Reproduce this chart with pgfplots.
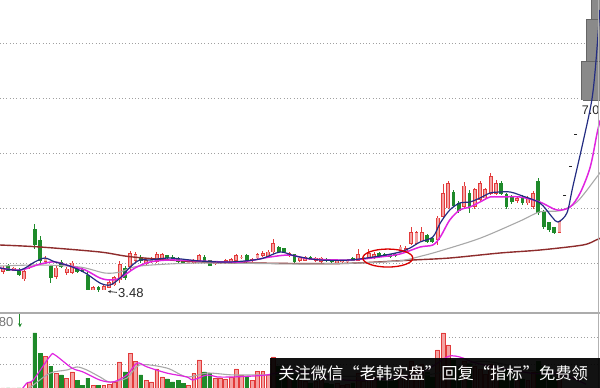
\documentclass[border=0pt]{standalone}
\usepackage{pgfplots}
\pgfplotsset{compat=1.18}
\usepackage{pgfplotstable}
\usepackage{fontspec}
\setmainfont{Liberation Sans}
\newfontfamily\cjk{Noto Sans CJK SC}
\usetikzlibrary{arrows.meta}

\definecolor{cred}{HTML}{E23B3B}
\definecolor{cpink}{HTML}{F4A2A2}
\definecolor{cgreen}{HTML}{1E8A2A}
\definecolor{ma5}{HTML}{232C82}
\definecolor{ma10}{HTML}{E024E0}
\definecolor{ma60}{HTML}{A8A8A8}
\definecolor{ma250}{HTML}{8E2C2C}
\definecolor{gridc}{HTML}{A0A0A0}
\definecolor{boxg}{HTML}{8A8A8A}

\pgfplotstableread{
i o h l c
0 3.84 3.95 3.80 3.91
2 3.87 3.93 3.86 3.91
4 3.71 3.91 3.67 3.84
5 3.91 3.98 3.89 3.95
8 4.02 4.13 3.98 4.09
10 3.75 3.95 3.71 3.91
12 3.82 3.93 3.78 3.89
13 3.82 4.04 3.80 4.00
17 3.51 3.58 3.50 3.56
19 3.51 3.60 3.50 3.58
20 3.56 3.69 3.55 3.65
21 3.60 3.76 3.58 3.73
22 3.69 4.04 3.64 3.98
24 3.93 4.22 3.87 4.18
25 4.05 4.20 4.02 4.16
27 3.98 4.07 3.96 4.04
28 4.02 4.11 4.00 4.09
29 4.02 4.20 4.00 4.15
30 4.05 4.18 4.04 4.15
35 4.00 4.05 3.98 4.04
36 4.00 4.07 3.98 4.05
37 4.04 4.16 4.02 4.13
40 3.98 4.04 3.96 4.02
41 4.00 4.04 3.98 4.02
42 4.00 4.07 3.98 4.04
43 4.02 4.09 4.00 4.07
44 4.04 4.16 4.02 4.13
45 4.09 4.15 4.07 4.11
47 4.04 4.09 4.02 4.07
48 4.09 4.18 4.07 4.15
49 4.13 4.22 4.11 4.18
50 4.11 4.24 4.09 4.20
51 4.20 4.44 4.16 4.36
54 4.13 4.20 4.11 4.18
56 4.04 4.11 4.02 4.09
57 4.05 4.13 4.04 4.11
59 4.04 4.11 4.02 4.09
60 4.02 4.11 4.00 4.09
63 4.00 4.05 3.98 4.04
64 4.02 4.05 4.00 4.04
65 4.02 4.07 4.00 4.05
67 4.05 4.26 4.04 4.16
68 4.09 4.13 4.07 4.11
69 4.09 4.26 4.07 4.18
70 4.09 4.20 4.07 4.16
75 4.18 4.33 4.16 4.29
76 4.22 4.31 4.20 4.27
77 4.36 4.65 4.33 4.56
78 4.36 4.58 4.35 4.55
79 4.40 4.65 4.38 4.56
82 4.42 4.86 4.33 4.82
83 4.84 5.44 4.80 5.27
84 5.00 5.49 4.98 5.44
87 5.02 5.47 4.98 5.40
89 5.02 5.36 4.98 5.33
90 5.15 5.49 5.11 5.45
91 5.18 5.36 5.15 5.33
92 5.27 5.64 5.24 5.58
93 5.27 5.51 5.24 5.45
97 5.13 5.22 5.09 5.18
99 5.09 5.22 5.05 5.18
100 5.02 5.31 4.98 5.27
105 4.56 4.76 4.55 4.75
}\candleup

\pgfplotstableread{
i o h l c
1 3.95 3.98 3.86 3.87
3 3.87 3.91 3.76 3.78
6 4.62 4.71 4.25 4.33
7 4.42 4.49 3.96 4.05
9 3.93 3.96 3.64 3.73
11 4.02 4.05 3.91 3.93
14 3.91 3.95 3.82 3.84
15 3.89 3.91 3.84 3.85
16 3.78 3.84 3.50 3.51
18 3.56 3.58 3.48 3.51
23 3.91 3.95 3.69 3.73
26 4.11 4.15 4.00 4.04
31 4.13 4.15 4.07 4.09
32 4.11 4.15 4.04 4.05
33 4.07 4.11 4.00 4.02
34 4.04 4.05 3.98 4.00
38 4.11 4.15 4.02 4.04
39 4.04 4.05 3.95 3.96
46 4.13 4.16 4.00 4.04
52 4.29 4.31 4.18 4.20
53 4.26 4.27 4.18 4.20
55 4.15 4.16 4.00 4.02
58 4.11 4.13 4.05 4.07
61 4.07 4.09 4.02 4.04
62 4.05 4.07 4.00 4.02
66 4.09 4.11 4.04 4.05
71 4.18 4.20 4.11 4.13
72 4.16 4.18 4.11 4.13
73 4.15 4.16 4.09 4.11
74 4.16 4.18 4.11 4.13
80 4.51 4.53 4.36 4.38
81 4.45 4.47 4.36 4.38
85 5.29 5.33 5.02 5.05
86 5.09 5.13 4.91 4.95
88 5.27 5.33 4.91 5.02
94 5.45 5.49 5.24 5.27
95 5.24 5.27 4.98 5.02
96 5.20 5.24 5.07 5.11
98 5.20 5.24 5.05 5.09
101 5.49 5.55 4.87 4.91
102 4.93 4.96 4.62 4.66
103 4.73 4.75 4.56 4.60
104 4.64 4.65 4.53 4.56
}\candledown

\pgfplotstableread{
i v
0 18
2 15
4 21
5 26.7
8 45.9
10 33.3
12 29.6
13 34.1
17 24.4
19 24.4
20 25.0
21 26.7
22 41.5
24 48.1
25 42.2
27 28.1
28 26.7
29 36.3
30 30.4
35 24.4
36 33.3
37 43.0
40 29.6
41 29.6
42 28.9
43 30.4
44 36.3
45 31.9
47 28.1
48 34.8
49 34.8
50 31.9
51 45.2
54 30
56 28
57 27
59 27
60 28
63 26
64 24
65 25
67 33
68 27
69 31
70 30
75 35
76 32
77 42
78 38
79 40
82 50.4
83 63.0
84 54.1
87 42
89 38
90 36
91 32
92 40
93 35
97 28
99 28
100 34
105 35
106 14
107 12
108 12
109 12
110 12
111 12
}\volup

\pgfplotstableread{
i v
1 17
3 19
6 63.0
7 48.1
9 38.5
11 31.9
14 28.1
15 24.4
16 29.6
18 24.4
23 34.1
26 31.9
31 28.9
32 26.7
33 28.1
34 25.9
38 34.1
39 33.3
46 30.4
52 38
53 33
55 32
58 26
61 26
62 25
66 26
71 28
72 27
73 27
74 28
80 34
81 30
85 43
86 38
88 40
94 33
95 36
96 30
98 29
101 42
102 38
103 33
104 30
}\voldown

\pgfplotsset{
  wick/.style={draw=none, mark=none, forget plot,
    error bars/.cd, y dir=both, y explicit, error mark=none,
    error bar style={draw=#1, line width=0.8pt}},
  body/.style 2 args={draw=none, mark=none, forget plot,
    error bars/.cd, y dir=both, y explicit, error mark=none,
    error bar style={draw=#1, line width=#2}},
}

\begin{document}
\begin{tikzpicture}
% ---------------- price panel ----------------
\begin{axis}[at={(0pt,76pt)}, anchor=south west, scale only axis,
  width=600pt, height=312pt,
  xmin=-0.56604, xmax=112.6415, ymin=3.10909, ymax=8.78182,
  axis line style={draw=none}, xtick=\empty, ytick=\empty, clip=true]
\foreach \g in {4,5,6,7,8}{
  \edef\tmp{\noexpand\draw[gridc, line width=0.9pt, dash pattern=on 1pt off 2.3pt] (axis cs:-0.6,\g) -- (axis cs:112.3,\g);}\tmp
}
% gap boxes on the limit-up run
\addplot[fill=boxg, draw=black!60, line width=0.6pt] coordinates {(109.05,6.96) (113,6.96) (113,7.66) (109.05,7.66)} -- cycle;
\addplot[fill=boxg, draw=black!60, line width=0.6pt] coordinates {(110.1,7.66) (113,7.66) (113,8.43) (110.1,8.43)} -- cycle;
\addplot[fill=boxg, draw=black!60, line width=0.6pt] coordinates {(111.05,8.43) (113,8.43) (113,9.2) (111.05,9.2)} -- cycle;
% candles: wicks
\addplot[wick=cred] table[x=i, y expr={(\thisrow{h}+\thisrow{l})/2}, y error expr={(\thisrow{h}-\thisrow{l})/2}] {\candleup};
\addplot[wick=cgreen] table[x=i, y expr={(\thisrow{h}+\thisrow{l})/2}, y error expr={(\thisrow{h}-\thisrow{l})/2}] {\candledown};
% candles: bodies
\addplot[body={cred}{3.8pt}] table[x=i, y expr={(\thisrow{o}+\thisrow{c})/2}, y error expr={abs(\thisrow{c}-\thisrow{o})/2+0.007}] {\candleup};
\addplot[body={cpink}{2.2pt}] table[x=i, y expr={(\thisrow{o}+\thisrow{c})/2}, y error expr={max(abs(\thisrow{c}-\thisrow{o})/2-0.008,0)}] {\candleup};
\addplot[body={cgreen}{3.8pt}] table[x=i, y expr={(\thisrow{o}+\thisrow{c})/2}, y error expr={abs(\thisrow{c}-\thisrow{o})/2+0.007}] {\candledown};
% one-price limit-up days
\addplot[only marks, mark=-, mark size=1.6pt, mark options={line width=1.2pt, draw=black!85}] coordinates {(106,5.23) (107,5.75) (108,6.33)};
\addplot[only marks, mark=-, mark size=1.8pt, mark options={line width=1.2pt, draw=white}] coordinates {(109,6.96)};
% moving averages
\addplot[ma250, line width=1.4pt, smooth, tension=0.5] coordinates {(-0.57,4.327)(7,4.291)(18.3,4.20)(24.5,4.109)(37.2,4.018)(46.6,4.0)(63.6,3.99)(77.4,4.055)(84.3,4.091)(93.8,4.182)(101.3,4.236)(109.4,4.327)(111.9,4.418)(112.7,4.45)};
\addplot[ma60, line width=1.1pt, smooth, tension=0.5] coordinates {(-0.57,3.945)(7,3.964)(14.5,3.927)(19.2,3.818)(22.1,3.836)(25.8,3.945)(37.2,4.0)(56,3.982)(67.4,4.0)(74.9,4.04)(78.7,4.12)(82.5,4.22)(90,4.45)(97.5,4.76)(101.3,4.93)(105.1,4.95)(108.3,5.11)(111.9,5.545)(112.7,5.65)};
\addplot[ma10, line width=1.5pt, smooth, tension=0.5] coordinates {(-0.57,3.91)(3.2,3.87)(7,3.98)(9.8,4.02)(12.6,3.945)(15.5,3.873)(18.3,3.727)(20.2,3.691)(22.1,3.727)(24.9,3.909)(27.7,4.018)(31.5,4.055)(37.2,4.036)(44.7,4.018)(50.4,4.109)(54.2,4.145)(57.9,4.073)(65.5,4.055)(71.1,4.109)(74.9,4.164)(78.7,4.291)(81.1,4.327)(82.5,4.473)(84.3,4.782)(86.2,4.964)(88.1,5.018)(90,5.109)(91.9,5.20)(93.8,5.20)(97.5,5.20)(101.3,5.109)(104.5,4.964)(107,5.018)(108.9,5.273)(110.8,5.745)(112.1,6.364)(112.7,6.6)};
\addplot[ma5, line width=1.2pt, smooth, tension=0.5] coordinates {(-0.57,3.91)(3.2,3.87)(6,4.02)(7.9,4.09)(9.8,4.02)(12.6,3.945)(15.5,3.82)(18.3,3.636)(20.2,3.60)(22.1,3.727)(24,3.927)(25.8,4.055)(27.7,4.055)(31.5,4.09)(37.2,4.036)(42.8,4.018)(48.5,4.073)(52.3,4.20)(55.1,4.127)(59.8,4.055)(65.5,4.055)(71.1,4.127)(74.9,4.20)(76.8,4.273)(78.7,4.382)(81.1,4.473)(82.5,4.727)(84.3,4.964)(86.2,5.091)(88.1,5.109)(90,5.182)(91.9,5.273)(93.8,5.291)(95.7,5.291)(97.5,5.236)(101.3,5.091)(103.6,4.836)(104.7,4.745)(106.4,4.909)(107.5,5.382)(109.4,6.182)(111.1,6.964)(111.9,7.69)(112.6,8.6)};
% annotations
\draw[red!85!black, line width=1.3pt] (axis cs:72.6,4.09) ellipse [x radius=25pt, y radius=9pt];
\draw[black!80, line width=0.8pt, -{Stealth[length=3pt,width=3pt]}] (axis cs:21.5,3.465) -- (axis cs:19.8,3.485);
\node[anchor=west, inner sep=0pt, font=\fontsize{13}{13}\selectfont, text=black!85] at (axis cs:21.7,3.455) {3.48};
\node[anchor=west, inner sep=0pt, font=\fontsize{12.5}{12.5}\selectfont, text=black!85] at (axis cs:109.2,6.78) {7.0};
\draw[gray!60, line width=0.8pt] (axis cs:112.26,3.0) -- (axis cs:112.26,9.0);
\end{axis}
% ---------------- volume panel ----------------
\begin{axis}[at={(0pt,0pt)}, anchor=south west, scale only axis,
  width=600pt, height=76pt,
  xmin=-0.56604, xmax=112.6415, ymin=22.2222, ymax=78.5185,
  axis line style={draw=none}, xtick=\empty, ytick=\empty, clip=true]
\draw[gridc, line width=0.9pt, dash pattern=on 1pt off 2.3pt] (axis cs:-0.6,40) -- (axis cs:112.3,40);
\draw[gridc, line width=0.9pt, dash pattern=on 1pt off 2.3pt] (axis cs:-0.6,60) -- (axis cs:112.3,60);
\addplot[ybar, bar width=3.8pt, bar shift=0pt, draw=cred, fill=cpink, line width=0.6pt] table[x=i, y=v] {\volup};
\addplot[ybar, bar width=3.8pt, bar shift=0pt, draw=cgreen, fill=cgreen, line width=0.6pt] table[x=i, y=v] {\voldown};
\addplot[ma60, line width=1.1pt, smooth, tension=0.5] coordinates {(3,17)(5.7,24.4)(8.9,33.3)(12.1,35.6)(14,37.8)(15.8,35.6)(18.3,30.4)(20.2,26.7)(23.4,29.6)(25.8,39.3)(30.9,37)(34.7,30.4)(38.5,33.3)(43.4,31.9)(49.8,31.9)(60,31)(80,32)(90,42)(100,35)(110,28)};
\addplot[ma10, line width=1.2pt, smooth, tension=0.5] coordinates {(3,18)(4.5,25.9)(5.7,28.1)(8.9,45.9)(9.8,46.7)(13,37)(15.1,34.1)(18.3,28.1)(20.8,26.7)(23.4,31.9)(25.3,40.7)(27.2,37.8)(30.9,33.3)(34.7,30.4)(35.8,28.1)(38.5,31.9)(40.4,30.4)(43.4,30.4)(47.2,31.1)(49.8,31.9)(55,35)(65,28)(75,30)(80,36)(83.8,45.2)(85.3,45.9)(86.8,44.4)(90,40)(100,33)(105,33)(110,25)};
\draw[gray!65, line width=1.6pt] (axis cs:-0.6,77.9) -- (axis cs:112.7,77.9);
\draw[gray!60, line width=0.8pt] (axis cs:112.26,20) -- (axis cs:112.26,80);
\node[anchor=west, inner sep=0pt, font=\fontsize{13}{13}\selectfont, text=black!55] at (axis cs:-0.8,71.1) {80};
\draw[cgreen, line width=1pt, -{Stealth[length=4pt,width=4pt]}] (axis cs:3.2,77.2) -- (axis cs:3.2,67.2);
\fill[black, opacity=0.93] (axis cs:50.38,20) rectangle (axis cs:113,44.44);
\node[anchor=base west, inner sep=0pt, text=white, font=\cjk\fontsize{16.3}{16.3}\selectfont] at (axis cs:51.9,28.15) {关注微信“老韩实盘”回复“指标”免费领};
\end{axis}
\pgfresetboundingbox
\path[use as bounding box] (0pt,0pt) rectangle (600pt,388pt);
\end{tikzpicture}
\end{document}
